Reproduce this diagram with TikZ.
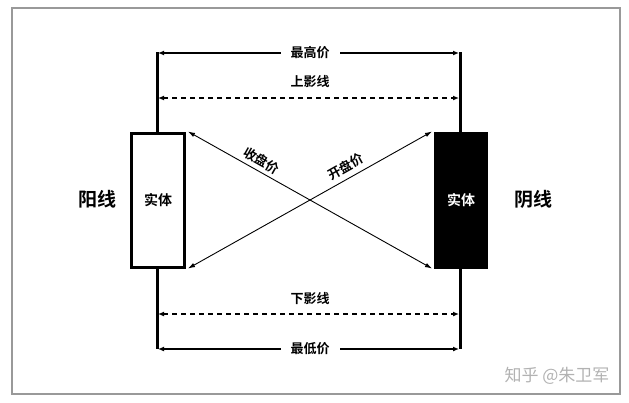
\documentclass[tikz,border=0pt]{standalone}
\usepackage{fontspec}
\newfontfamily\cjk{Noto Sans CJK SC}
\newfontfamily\cjkb{Noto Sans CJK SC Bold}
\usetikzlibrary{arrows.meta}
\begin{document}
\begin{tikzpicture}[x=1pt,y=-1pt,
  lbl/.style={font=\cjkb\fontsize{13}{13}\selectfont, inner sep=2pt},
  big/.style={font=\cjkb\fontsize{19}{19}\selectfont},
  wick/.style={line width=3pt},
  dim/.style={line width=1.2pt, {Latex[length=6pt,width=5pt]}-{Latex[length=6pt,width=5pt]}},
  diag/.style={line width=0.9pt, {Latex[length=7pt,width=4.5pt]}-{Latex[length=7pt,width=4.5pt]}},
]
\useasboundingbox (0,0) rectangle (629,402);
\draw[line width=1.5pt, gray!80] (12,8) rectangle (620,394);

\node[draw, line width=3pt, fill=white, minimum width=53pt, minimum height=134pt, inner sep=0pt,
  font=\cjkb\fontsize{14}{14}\selectfont] (L) at (158,200) {实体};
\node[draw, line width=3pt, fill=black, text=white, minimum width=51pt, minimum height=134pt, inner sep=0pt,
  font=\cjkb\fontsize{14}{14}\selectfont] (R) at (461,200) {实体};

\coordinate (wtl) at (157,52);
\coordinate (wbl) at (157,349);
\coordinate (wtr) at (460,52);
\coordinate (wbr) at (460,349);

\draw[wick] (wtl) -- (wtl |- L.north);
\draw[wick] (wbl |- L.south) -- (wbl);
\draw[wick] (wtr) -- (wtr |- R.north);
\draw[wick] (wbr |- R.south) -- (wbr);

% top
\coordinate (hl1) at (158,53);
\coordinate (hr1) at (459,53);
\draw[dim] (hl1) -- (hr1);
\node[lbl, fill=white, inner xsep=10pt] (zg) at (310,53) {最高价};

\coordinate (hl2) at (158,98);
\coordinate (hr2) at (459,98);
\draw[dim, dashed, dash pattern=on 5pt off 4pt] (hl2) -- (hr2);
\node[lbl] (sy) at (310,82) {上影线};

% bottom
\coordinate (hl3) at (158,314);
\coordinate (hr3) at (459,314);
\draw[dim, dashed, dash pattern=on 5pt off 4pt] (hl3) -- (hr3);
\node[lbl] (xy) at (310,299) {下影线};

\coordinate (hl4) at (158,349);
\coordinate (hr4) at (459,349);
\draw[dim] (hl4) -- (hr4);
\node[lbl, fill=white, inner xsep=10pt] (zd) at (310,349) {最低价};

% diagonals
\draw[diag] ([xshift=2pt]L.north east) -- node[pos=0.28, sloped, above, lbl, inner sep=1pt, yshift=3pt] (sp) {收盘价} ([xshift=-2pt]R.south west);
\draw[diag] ([xshift=2pt]L.south east) -- node[pos=0.67, sloped, above, lbl, inner sep=1pt, yshift=4pt] (kp) {开盘价} ([xshift=-2pt]R.north west);

\node[big] (yang) at (97,199) {阳线};
\node[big] (yin) at (533,199) {阴线};

\node[font=\cjk\fontsize{17}{17}\selectfont, text=gray!60] (wm) at (557,376) {知乎 @朱卫军};
\end{tikzpicture}
\end{document}
